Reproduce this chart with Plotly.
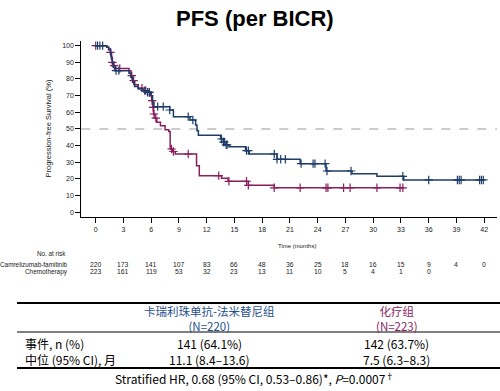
import numpy as np
import plotly.graph_objects as go

# ---------------- data ----------------
BLUE_T = [0, 1.2, 1.4, 1.6, 1.7, 1.8, 1.9, 2.1, 3.6, 3.8, 4.0, 4.2, 4.6, 5.1, 5.6, 6.0, 6.15, 6.3,
          8.0, 8.4, 10.2, 10.8, 10.95, 11.1, 13.5, 13.8, 14.1, 14.4, 16.2, 16.6, 19.6, 22.1, 24.9,
          27.7, 30.4, 33.3, 41.9]
BLUE_S = [100, 99, 97.5, 95, 92, 89.5, 87, 85, 83.5, 81, 78, 75.5, 74, 73, 72, 70, 66, 63.4,
          61.4, 57.4, 55.4, 52.4, 49, 46.2, 44, 42.2, 40.5, 39.4, 37, 35, 31.8, 29.2, 24.8,
          23.2, 21.6, 19.4, 19.4]
CHEMO_T = [0, 1.2, 1.4, 1.6, 1.7, 1.8, 1.9, 2.1, 3.6, 3.8, 4.0, 4.2, 4.6, 5.1, 5.6, 5.9, 6.05,
           6.15, 6.25, 6.4, 6.6, 7.0, 7.5, 7.9, 8.05, 8.3, 8.6, 10.9, 11.2, 13.6, 14.3, 16.5,
           19.3, 33.3]
CHEMO_S = [100, 99, 98, 96, 93, 90, 88, 86.3, 85, 82, 79, 76.5, 74.5, 73, 72, 70, 67,
           63, 59, 56.5, 54, 52, 49.5, 48.5, 38, 36.5, 35, 28, 22, 20.5, 18.6, 16.2,
           14.7, 14.7]
BLUE_CENS = [0.2, 0.45, 0.75, 2.2, 2.5, 5.3, 5.6, 5.8, 6.7, 7.3, 8.0, 10.0, 10.5, 13.6, 13.8,
             13.9, 14.1, 14.2, 16.3, 16.5, 19.3, 19.6, 20.0, 20.5, 22.2, 23.5, 23.7, 24.8,
             25.0, 27.6, 33.2, 36.0, 39.1, 39.3, 39.5, 41.5, 41.7, 41.9]
CHEMO_CENS = [0.0, 1.6, 1.8, 2.0, 2.6, 3.9, 4.1, 5.0, 5.4, 5.8, 6.1, 6.2, 6.3, 6.5, 8.2, 8.4,
              10.0, 13.3, 14.4, 16.3, 16.5, 19.3, 22.1, 24.9, 25.1, 26.8, 27.5, 30.4, 32.9, 33.2]

TICK_T = [0, 3, 6, 9, 12, 15, 18, 21, 24, 27, 30, 33, 36, 39, 42]
RISK_BLUE = [220, 173, 141, 107, 83, 66, 48, 36, 25, 18, 16, 15, 9, 4, 0]
RISK_CHEMO = [223, 161, 119, 53, 32, 23, 13, 11, 10, 5, 4, 1, 0]
Y_TICKS = [0, 10, 20, 30, 40, 50, 60, 70, 80, 90, 100]

NAME_BLUE = "Camrelizumab-famitinib"
NAME_CHEMO = "Chemotherapy"

HEAD_BLUE = ["卡瑞利珠单抗-法米替尼组", "(N=220)"]
HEAD_CHEMO = ["化疗组", "(N=223)"]
ROW_LABELS = ["事件, n (%)", "中位 (95% CI), 月"]
ROW_BLUE = ["141 (64.1%)", "11.1 (8.4–13.6)"]
ROW_CHEMO = ["142 (63.7%)", "7.5 (6.3–8.3)"]
FOOT = "Stratified HR, 0.68 (95% CI, 0.53–0.86)*, <i>P</i>=0.0007<sup>†</sup>"

C_BLUE = "#1d3c68"
C_CHEMO = "#8a1f5c"
C_HEAD_BLUE = "#1f4f8c"
C_HEAD_CHEMO = "#8b1e62"

W, H = 500, 391
SANS = "Liberation Sans, Arial, sans-serif"
CJK = "Noto Sans CJK SC, Noto Sans, sans-serif"


def px(x):
    return x / W


def py(y):
    return 1 - y / H


def step_at(ts, ss, t):
    i = np.searchsorted(np.array(ts), t, side="right") - 1
    return np.array(ss)[np.clip(i, 0, len(ss) - 1)]


fig = go.Figure()
for ts, ss, cens, col, name in [(CHEMO_T, CHEMO_S, CHEMO_CENS, C_CHEMO, NAME_CHEMO),
                                (BLUE_T, BLUE_S, BLUE_CENS, C_BLUE, NAME_BLUE)]:
    fig.add_trace(go.Scatter(x=ts, y=ss, mode="lines", line=dict(color=col, width=1.5, shape="hv"),
                             name=name, showlegend=False, hoverinfo="skip", cliponaxis=False))
    fig.add_trace(go.Scatter(x=cens, y=step_at(ts, ss, np.array(cens)), mode="markers",
                             marker=dict(symbol="cross-thin", size=6, line=dict(color=col, width=1.2)),
                             showlegend=False, hoverinfo="skip", cliponaxis=False))

x0p, x1p = 81.3, 497
y0p, y1p = 217.3, 41
fig.update_layout(
    width=W, height=H, margin=dict(l=0, r=0, t=0, b=0, autoexpand=False),
    paper_bgcolor="white", plot_bgcolor="white",
    xaxis=dict(domain=[px(x0p), px(x1p)], range=[-1.557, 43.38], tickvals=TICK_T,
               showline=True, linecolor="black", linewidth=1, ticks="outside", ticklen=5,
               tickcolor="black", showgrid=False, zeroline=False,
               tickfont=dict(family=SANS, size=7, color="#222")),
    yaxis=dict(domain=[py(y0p), py(y1p)], range=[-3.0, 102.8], tickvals=Y_TICKS,
               showline=True, linecolor="black", linewidth=1, ticks="outside", ticklen=5,
               tickcolor="black", showgrid=False, zeroline=False,
               tickfont=dict(family=SANS, size=7, color="#222")),
)

fig.add_shape(type="line", xref="paper", yref="y", x0=px(x0p), x1=px(x1p), y0=50, y1=50,
              line=dict(color="#999999", width=1.2, dash="dash"), layer="below")


def A(text, x, y, xref="paper", xanchor="center", size=6.2, family=SANS, color="#222", **kw):
    return dict(text=text, x=x, y=py(y), xref=xref, yref="paper", xanchor=xanchor,
                yanchor="middle", showarrow=False,
                font=dict(family=family, size=size, color=color), **kw)


ann = []
ann.append(A("<b>PFS (per BICR)</b>", px(255), 18, size=22, color="black"))
ann.append(A("Progression-free Survival (%)", px(47.5), 129, textangle=-90, size=7.5))
ann.append(A("Time (months)", px(297), 246, size=6))
ann.append(A("No. at risk", px(68), 253, xanchor="right", size=6.3))
for name, vals, yy in [(NAME_BLUE, RISK_BLUE, 264.3), (NAME_CHEMO, RISK_CHEMO, 271.7)]:
    ann.append(A(name, px(70), yy, xanchor="right", size=6.4))
    for t, v in zip(TICK_T, vals):
        ann.append(A(str(v), t, yy, xref="x", size=6.8))

# bottom table
for lines, xx, col in [(HEAD_BLUE, 209, C_HEAD_BLUE), (HEAD_CHEMO, 397, C_HEAD_CHEMO)]:
    ann.append(A("<br>".join(lines), px(xx), 318, size=11.5, family=CJK, color=col))
for lab, vb, vc, yy in zip(ROW_LABELS, ROW_BLUE, ROW_CHEMO, [343, 359]):
    ann.append(A(lab, px(23), yy, xanchor="left", size=12, family=CJK, color="black"))
    ann.append(A(vb, px(209), yy, size=12, family=CJK, color="black"))
    ann.append(A(vc, px(396), yy, size=12, family=CJK, color="black"))
ann.append(A(FOOT, px(254), 378, size=12, family=CJK, color="black"))
fig.update_layout(annotations=ann)

for yy, wd in [(303, 1.8), (332, 1), (368, 1.8)]:
    fig.add_shape(type="line", xref="paper", yref="paper", x0=px(17), x1=1, y0=py(yy), y1=py(yy),
                  line=dict(color="black", width=wd))

fig.write_html("out.html", config={"displayModeBar": False},
               post_script="document.body.style.margin='0';")
